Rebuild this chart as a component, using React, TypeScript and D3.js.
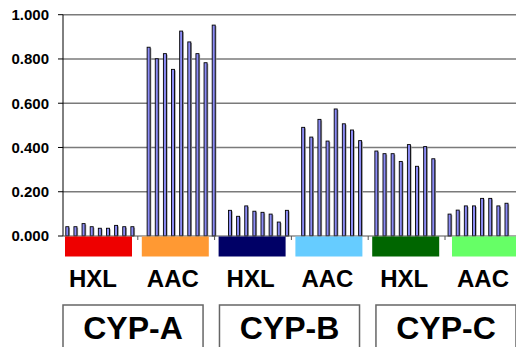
import React from "react";
import * as d3 from "d3";

const yTicks = [0, 0.2, 0.4, 0.6, 0.8, 1.0];
const groupLabels = ["HXL", "AAC", "HXL", "AAC", "HXL", "AAC"];
const groupColors = ["#EE0000", "#FF9933", "#000066", "#66CCFF", "#006600", "#66FF66"];
const enzymes = ["CYP-A", "CYP-B", "CYP-C"];

const hxlA = [0.042, 0.042, 0.056, 0.042, 0.035, 0.035, 0.048, 0.042, 0.042];
const aacA = [0.853, 0.801, 0.824, 0.753, 0.926, 0.877, 0.824, 0.783, 0.953];
const hxlB = [0.116, 0.089, 0.136, 0.112, 0.107, 0.099, 0.063, 0.116];
const aacB = [0.491, 0.447, 0.527, 0.429, 0.574, 0.507, 0.479, 0.431];
const hxlC = [0.384, 0.372, 0.372, 0.337, 0.413, 0.315, 0.404, 0.349];
const aacC = [0.099, 0.117, 0.136, 0.136, 0.17, 0.17, 0.136, 0.148];
const seriesGroups = [hxlA, aacA, hxlB, aacB, hxlC, aacC];

// flat slot list, one empty slot between groups
const slots: (number | null)[] = [];
seriesGroups.forEach((g, gi) => {
  if (gi > 0) slots.push(null);
  g.forEach((v) => slots.push(v));
});

export default function App() {
  const W = 516, H = 347;
  const y = d3.scaleLinear().domain([0, 1]).range([236, 14.7]);
  const xs = d3.scaleLinear().domain([0, slots.length - 1]).range([67.3, 506.5]);
  const band = d3.scaleBand<number>().domain(d3.range(6)).range([61, 61 + 6 * 76.8]);
  const boxBand = d3.scaleBand<number>().domain(d3.range(3)).range([63, 516]).paddingInner(0.105);
  const font = "Arial, 'Liberation Sans', Helvetica, sans-serif";
  const barW = 3;
  const labelOffsets = [32, 35, 36, 36, 36, 38];

  return (
    <svg width={W} height={H} style={{ position: "absolute", left: 0, top: 0, background: "#fff" }}>
      {/* gridlines */}
      {yTicks.filter((t) => t > 0).map((t) => (
        <line key={t} x1={63} x2={W} y1={y(t)} y2={y(t)} stroke="#7a7a7a" strokeWidth={1.5} />
      ))}
      {/* y axis */}
      <line x1={63} x2={63} y1={y(1)} y2={y(0)} stroke="#000" strokeWidth={1} />
      {yTicks.map((t) => (
        <g key={t}>
          <line x1={58} x2={63} y1={y(t)} y2={y(t)} stroke="#000" strokeWidth={1} />
          <text x={49} y={y(t)} dy="0.36em" textAnchor="end" fontFamily={font} fontWeight="bold" fontSize={15} fill="#000">
            {d3.format(".3f")(t)}
          </text>
        </g>
      ))}
      {/* bars */}
      {slots.map((v, i) =>
        v == null ? null : (
          <g key={i}>
            <rect x={xs(i) - barW / 2 + 1.2} y={y(v) + 1} width={barW} height={y(0) - y(v) - 1} fill="#9a9a9a" />
            <rect x={xs(i) - barW / 2} y={y(v)} width={barW} height={y(0) - y(v)} fill="#8c8cf5" stroke="#000" strokeWidth={0.9} />
          </g>
        )
      )}
      {/* x axis */}
      <line x1={63} x2={W} y1={y(0)} y2={y(0)} stroke="#555" strokeWidth={1.2} />
      {d3.range(1, 6).map((k) => (
        <line key={k} x1={band(k)!} x2={band(k)!} y1={y(0)} y2={y(0) + 4} stroke="#555" strokeWidth={1} />
      ))}
      {/* color blocks */}
      {groupColors.map((c, i) => (
        <rect key={i} x={band(i)! + 4 + (i === 5 ? 3 : 0)} y={236.5} width={67} height={20} fill={c} />
      ))}
      {/* group labels */}
      {groupLabels.map((l, i) => (
        <text key={i} x={band(i)! + labelOffsets[i]} y={286.5} textAnchor="middle" fontFamily={font} fontWeight="bold" fontSize={24} fill="#000">
          {l}
        </text>
      ))}
      {/* enzyme boxes */}
      {enzymes.map((e, i) => (
        <g key={e}>
          <rect x={boxBand(i)!} y={305} width={boxBand.bandwidth()} height={60} fill="#fff" stroke="#666" strokeWidth={1.5} />
          <text x={boxBand(i)! + boxBand.bandwidth() / 2} y={339} textAnchor="middle" fontFamily={font} fontWeight="bold" fontSize={32} fill="#000">
            {e}
          </text>
        </g>
      ))}
    </svg>
  );
}
